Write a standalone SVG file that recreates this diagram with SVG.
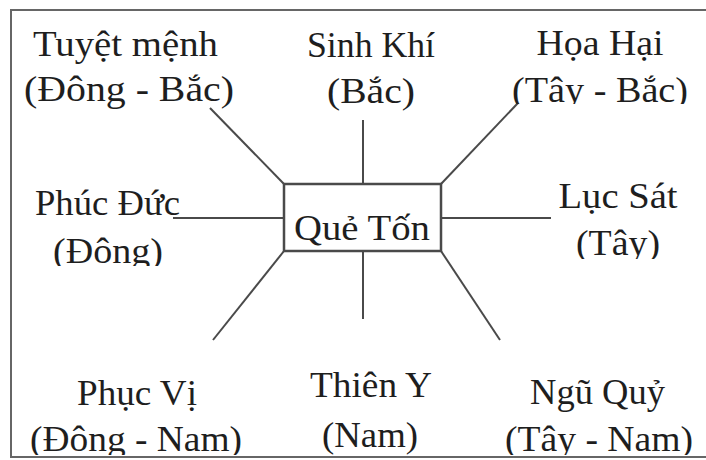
<svg xmlns="http://www.w3.org/2000/svg" width="706" height="460" viewBox="0 0 706 460">
<style>
  text { font-family: "Liberation Serif", "Times New Roman", serif; font-size: 36px; fill: #1e1e1e; text-anchor: middle; }
  .ln { stroke: #4a4a4a; stroke-width: 2; fill: none; }
  .box { stroke: #4a4a4a; stroke-width: 2.5; fill: #ffffff; }
</style>
<defs>
  <clipPath id="cTB"><rect x="0" y="0" width="706" height="104"/></clipPath>
  <clipPath id="cD"><rect x="0" y="0" width="706" height="266"/></clipPath>
  <clipPath id="cT"><rect x="0" y="0" width="706" height="259"/></clipPath>
  <clipPath id="cB"><rect x="0" y="0" width="706" height="455"/></clipPath>
</defs>
<rect x="0" y="0" width="706" height="460" fill="#ffffff"/>
<rect x="11" y="10" width="705" height="447" fill="none" stroke="#666666" stroke-width="2"/>
<g id="connectors">
  <line class="ln" x1="210" y1="108" x2="284" y2="184"/>
  <line class="ln" x1="363" y1="120" x2="363" y2="184"/>
  <line class="ln" x1="518" y1="103" x2="441" y2="184"/>
  <line class="ln" x1="173" y1="218" x2="284" y2="218"/>
  <line class="ln" x1="441" y1="218" x2="551" y2="218"/>
  <line class="ln" x1="284" y1="251" x2="213" y2="340"/>
  <line class="ln" x1="363" y1="251" x2="363" y2="319"/>
  <line class="ln" x1="441" y1="251" x2="500" y2="340"/>
</g>
<g id="center">
  <rect class="box" x="284" y="184" width="157" height="67"/>
  <text x="362" y="240" textLength="136" lengthAdjust="spacingAndGlyphs">Quẻ Tốn</text>
</g>
<g id="tuyet-menh">
  <text x="125.5" y="56" textLength="185" lengthAdjust="spacingAndGlyphs">Tuyệt mệnh</text>
  <text x="129" y="101" textLength="210" lengthAdjust="spacingAndGlyphs">(Đông - Bắc)</text>
</g>
<g id="sinh-khi">
  <text x="371" y="57" textLength="128" lengthAdjust="spacingAndGlyphs">Sinh Khí</text>
  <text x="371" y="103" textLength="88" lengthAdjust="spacingAndGlyphs">(Bắc)</text>
</g>
<g id="hoa-hai">
  <text x="600" y="55" textLength="127" lengthAdjust="spacingAndGlyphs">Họa Hại</text>
  <text x="600" y="102" textLength="176" lengthAdjust="spacingAndGlyphs" clip-path="url(#cTB)">(Tây - Bắc)</text>
</g>
<g id="phuc-duc">
  <text x="107.5" y="215" textLength="145" lengthAdjust="spacingAndGlyphs">Phúc Đức</text>
  <text x="108" y="263" textLength="110" lengthAdjust="spacingAndGlyphs" clip-path="url(#cD)">(Đông)</text>
</g>
<g id="luc-sat">
  <text x="618" y="208" textLength="119" lengthAdjust="spacingAndGlyphs">Lục Sát</text>
  <text x="618" y="255" textLength="84" lengthAdjust="spacingAndGlyphs" clip-path="url(#cT)">(Tây)</text>
</g>
<g id="phuc-vi">
  <text x="137" y="405" textLength="120" lengthAdjust="spacingAndGlyphs">Phục Vị</text>
  <text x="136" y="451" textLength="212" lengthAdjust="spacingAndGlyphs" clip-path="url(#cB)">(Đông - Nam)</text>
</g>
<g id="thien-y">
  <text x="371" y="397" textLength="122" lengthAdjust="spacingAndGlyphs">Thiên Y</text>
  <text x="370" y="447" textLength="96" lengthAdjust="spacingAndGlyphs" clip-path="url(#cB)">(Nam)</text>
</g>
<g id="ngu-quy">
  <text x="597.5" y="404" textLength="135" lengthAdjust="spacingAndGlyphs">Ngũ Quỷ</text>
  <text x="599" y="451" textLength="188" lengthAdjust="spacingAndGlyphs" clip-path="url(#cB)">(Tây - Nam)</text>
</g>
</svg>
